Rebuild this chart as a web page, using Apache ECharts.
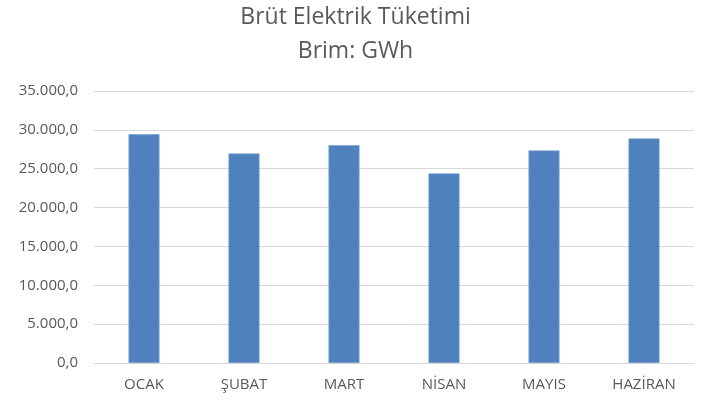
<!DOCTYPE html>
<html><head><meta charset="utf-8">
<script src="https://cdn.jsdelivr.net/npm/echarts@6/dist/echarts.min.js"></script>
<style>html,body{margin:0;padding:0;background:#fff}#c{width:711px;height:403px}</style>
</head><body><div id="c"></div>
<script>
const categories = ['OCAK','ŞUBAT','MART','NİSAN','MAYIS','HAZİRAN'];
const values = [29450, 26950, 28030, 24400, 27350, 28890];
const titleLines = ['Brüt Elektrik Tüketimi','Brim: GWh'];

function fmt(v){
  const s = Math.round(v).toString().replace(/\B(?=(\d{3})+(?!\d))/g,'.');
  return s + ',0';
}
const chart = echarts.init(document.getElementById('c'));
chart.setOption({
  backgroundColor:'#fff',
  animation:false,
  title:{
    text: titleLines.join('\n'),
    left:'center', top:0, padding:[0,0,0,0],
    textStyle:{fontFamily:'Open Sans', fontSize:23, fontWeight:'normal', color:'#595959', lineHeight:34}
  },
  grid:{left:94, right:17, top:91, bottom:40},
  xAxis:{
    type:'category', data:categories,
    axisLine:{lineStyle:{color:'#d9d9d9'}},
    axisTick:{show:false},
    axisLabel:{color:'#595959', fontFamily:'Open Sans', fontSize:15, margin:14}
  },
  yAxis:{
    type:'value', min:0, max:35000, interval:5000,
    axisLine:{show:false}, axisTick:{show:false},
    splitLine:{lineStyle:{color:'#d9d9d9'}},
    axisLabel:{color:'#595959', fontFamily:'Open Sans', fontSize:15, margin:16, formatter:fmt}
  },
  series:[{
    type:'bar', data:values, barWidth:'31%',
    itemStyle:{color:'#4F81BD', borderColor:'#7ea3d4', borderWidth:0.6}
  }]
});
</script></body></html>
